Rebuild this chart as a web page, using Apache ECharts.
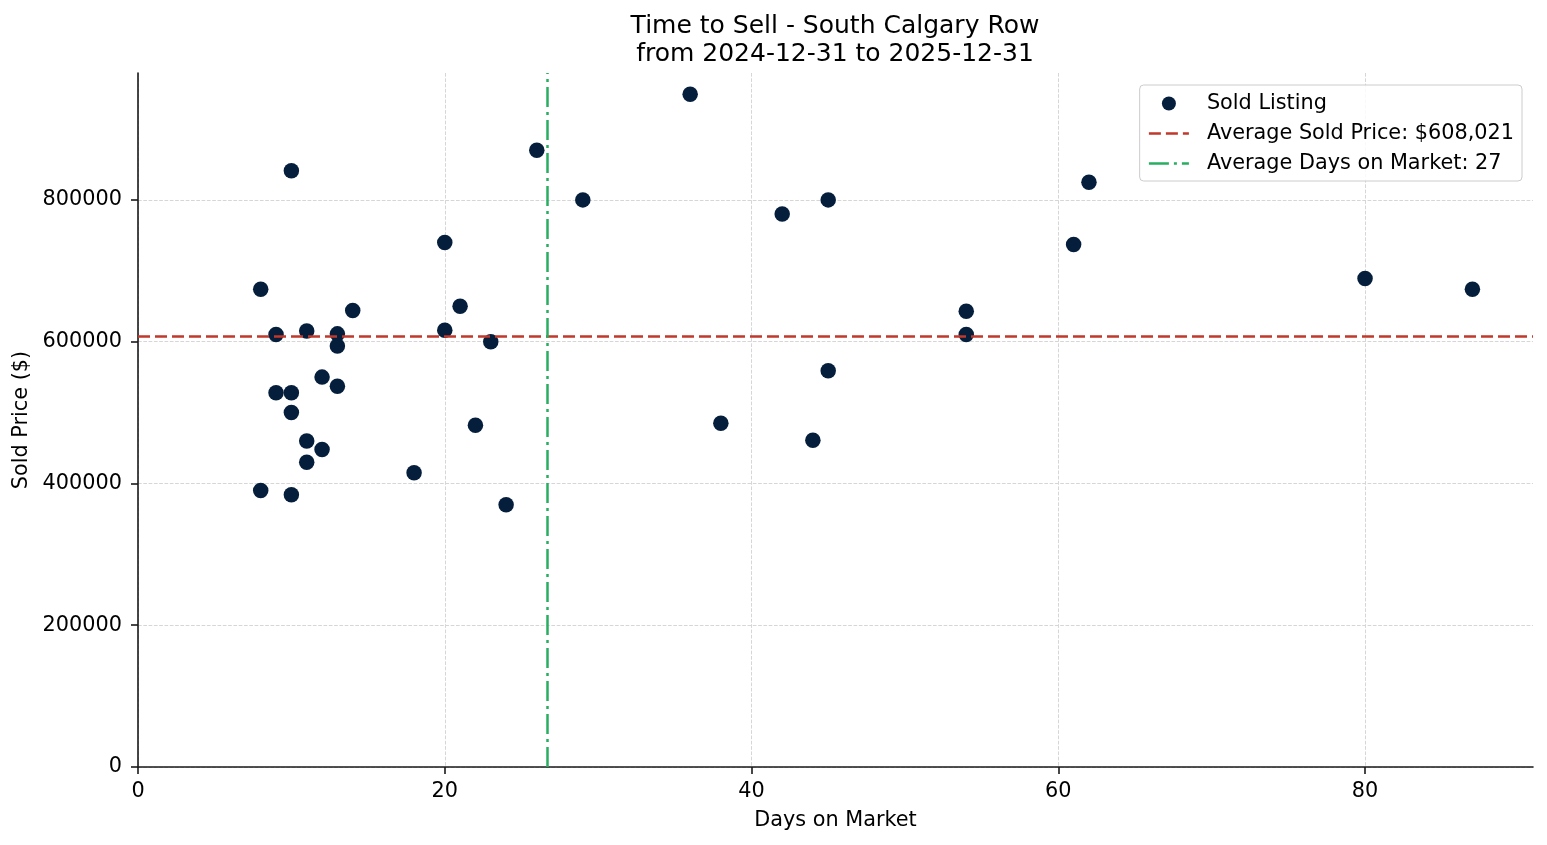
<!DOCTYPE html>
<html>
<head>
<meta charset="utf-8">
<script src="https://cdn.jsdelivr.net/npm/echarts@6/dist/echarts.min.js"></script>
<style>
  html, body { margin: 0; padding: 0; background: #ffffff; }
  #chart { width: 1547px; height: 845px; }
</style>
</head>
<body>
<div id="chart"></div>
<script>
// ---- data ----
const daysOnMarket = [8, 8, 9, 9, 10, 10, 10, 10, 11, 11, 11, 12, 12, 13, 13, 13, 14, 18, 20, 20,
                      21, 22, 23, 24, 26, 29, 36, 38, 42, 44, 45, 45, 54, 54, 61, 62, 80, 87];
const soldPrices  = [674000, 390000, 610000, 528000, 841000, 528000, 500000, 384000, 615000, 460000,
                     430000, 550000, 448000, 611000, 594000, 537000, 644000, 415000, 740000, 616000,
                     650000, 482000, 600000, 370000, 870000, 800000, 949000, 485000, 780000, 461000,
                     800000, 559000, 643000, 610000, 737000, 825000, 689000, 674000];
const avgSoldPrice = 608021;
const avgDaysOnMarket = 26.7;
const xTicks = [0, 20, 40, 60, 80];
const yTicks = [0, 200000, 400000, 600000, 800000];
const xLimits = [0, 90.95];
const yLimits = [0, 979000];
const titleLines = ['Time to Sell - South Calgary Row', 'from 2024-12-31 to 2025-12-31'];
const seriesNames = ['Sold Listing',
                     'Average Sold Price: $' + avgSoldPrice.toLocaleString('en-US'),
                     'Average Days on Market: ' + Math.round(avgDaysOnMarket)];

const points = daysOnMarket.map((d, i) => [d, soldPrices[i]]);
const FONT = 'DejaVu Sans';
const FS = 20.8;
const axisColor = '#1a1a1a';
const gridLine = { show: true, lineStyle: { color: '#d6d6d6', width: 1, type: [3.7, 1.6] } };
const redStyle = { color: '#c0392b', width: 2.5, type: [12, 5] };
const greenStyle = { color: '#27ae60', width: 2.5, type: [20, 5, 3, 5] };
const hidden = { opacity: 0 };

const chart = echarts.init(document.getElementById('chart'), null, { renderer: 'canvas' });
chart.setOption({
  animation: false,
  backgroundColor: '#ffffff',
  textStyle: { fontFamily: FONT },
  title: {
    text: titleLines.join('\n'),
    left: 835, top: 12, padding: 0, textAlign: 'center',
    textStyle: { fontFamily: FONT, fontSize: 25, fontWeight: 'normal', color: '#000', lineHeight: 28 }
  },
  grid: { left: 138, right: 14, top: 73, bottom: 78, containLabel: false },
  legend: {
    orient: 'vertical', right: 25, top: 85,
    padding: [8, 8, 7, 8], itemGap: 9, itemWidth: 40, itemHeight: 14,
    backgroundColor: 'rgba(255,255,255,0.85)', borderColor: '#cccccc', borderWidth: 1, borderRadius: 4,
    textStyle: { fontFamily: FONT, fontSize: FS, color: '#000', lineHeight: 21, padding: [0, 0, 0, 13] },
    data: [
      { name: seriesNames[0], icon: 'circle' },
      { name: seriesNames[1], itemStyle: hidden, lineStyle: redStyle },
      { name: seriesNames[2], itemStyle: hidden, lineStyle: greenStyle }
    ]
  },
  xAxis: {
    type: 'value', min: xLimits[0], max: xLimits[1], interval: 20,
    name: 'Days on Market', nameLocation: 'middle', nameGap: 43,
    nameTextStyle: { fontFamily: FONT, fontSize: FS, color: '#000' },
    axisLine: { show: true, onZero: false, lineStyle: { color: axisColor, width: 1.6 } },
    axisTick: { show: true, inside: false, length: 7, lineStyle: { color: axisColor, width: 1.6 }, customValues: xTicks },
    axisLabel: { fontFamily: FONT, fontSize: FS, color: '#000', margin: 14, customValues: xTicks },
    splitLine: gridLine
  },
  yAxis: {
    type: 'value', min: yLimits[0], max: yLimits[1], interval: 200000,
    name: 'Sold Price ($)', nameLocation: 'middle', nameGap: 104,
    nameTextStyle: { fontFamily: FONT, fontSize: FS, color: '#000' },
    axisLine: { show: true, onZero: false, lineStyle: { color: axisColor, width: 1.6 } },
    axisTick: { show: true, inside: false, length: 7, lineStyle: { color: axisColor, width: 1.6 }, customValues: yTicks },
    axisLabel: { fontFamily: FONT, fontSize: FS, color: '#000', margin: 16, customValues: yTicks,
                 padding: [4, 0, 0, 0], formatter: v => String(v) },
    splitLine: gridLine
  },
  series: [
    {
      name: seriesNames[0], type: 'scatter', data: points, symbol: 'circle', symbolSize: 15.5,
      itemStyle: { color: '#051e3c', opacity: 1 }, z: 2
    },
    {
      name: seriesNames[1], type: 'line', data: [], symbol: 'none',
      lineStyle: redStyle, itemStyle: { color: redStyle.color, opacity: 0 }, z: 3,
      markLine: { silent: true, symbol: ['none', 'none'], label: { show: false },
                  lineStyle: Object.assign({ opacity: 1 }, redStyle), data: [{ yAxis: avgSoldPrice }], animation: false }
    },
    {
      name: seriesNames[2], type: 'line', data: [], symbol: 'none',
      lineStyle: greenStyle, itemStyle: { color: greenStyle.color, opacity: 0 }, z: 3,
      markLine: { silent: true, symbol: ['none', 'none'], label: { show: false },
                  lineStyle: Object.assign({ opacity: 1 }, greenStyle), data: [{ xAxis: avgDaysOnMarket }], animation: false }
    }
  ]
});
</script>
</body>
</html>
